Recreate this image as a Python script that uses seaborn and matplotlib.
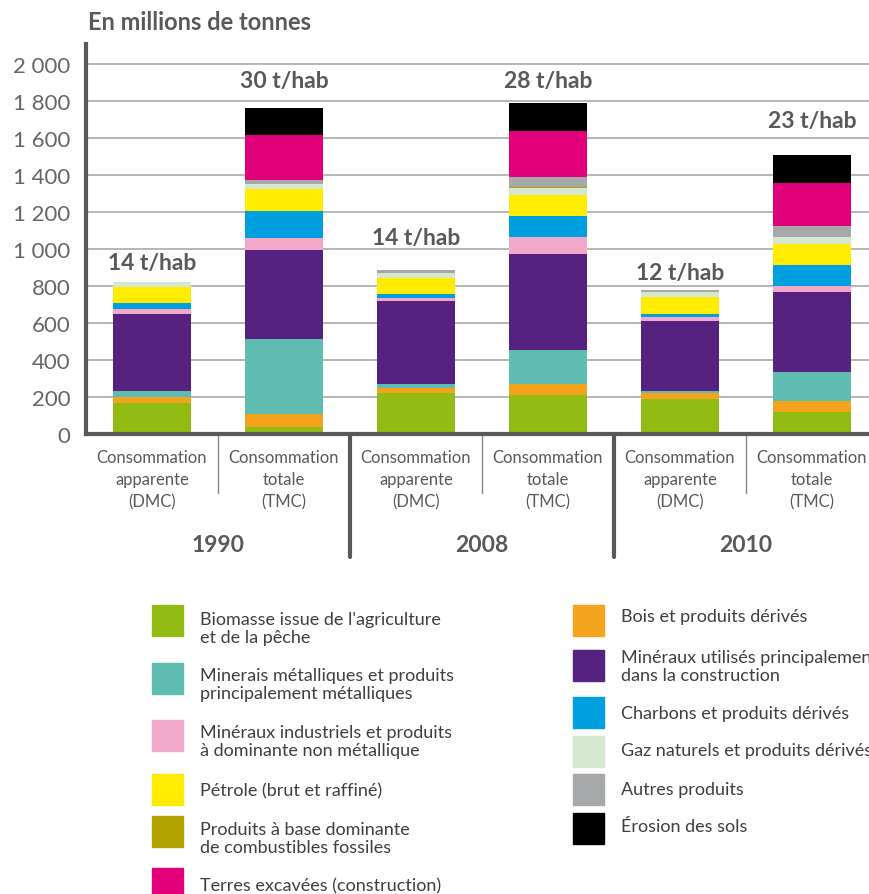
import pandas as pd
import matplotlib
matplotlib.use('Agg')
import matplotlib.pyplot as plt
from matplotlib.patches import Rectangle
from matplotlib.transforms import blended_transform_factory
import seaborn as sns

sns.set_style("white")
plt.rcParams['font.family'] = ['Lato', 'DejaVu Sans']

DARK = '#58595b'

### Data (millions of tonnes)

bar_ids = ['DMC 1990', 'TMC 1990', 'DMC 2008', 'TMC 2008', 'DMC 2010', 'TMC 2010']
bar_labels = ['Consommation\napparente\n(DMC)', 'Consommation\ntotale\n(TMC)'] * 3
years = ['1990', '2008', '2010']
per_capita = ['14 t/hab', '30 t/hab', '14 t/hab', '28 t/hab', '12 t/hab', '23 t/hab']
per_capita_y = [930, 1915, 1065, 1915, 875, 1695]

# bottom -> top stacking order
biomasse = [169, 36, 222, 212, 192, 117]
bois = [32, 74, 27, 58, 32, 64]
minerais_metal = [32, 406, 21, 182, 11, 155]
mineraux_constr = [416, 480, 448, 522, 378, 432]
mineraux_indus = [27, 64, 18, 91, 22, 32]
charbons = [32, 149, 20, 117, 16, 112]
petrole = [90, 117, 90, 112, 90, 117]
gaz = [23, 27, 27, 38, 27, 38]
fossiles = [0, 0, 0, 4, 0, 0]
autres = [4, 21, 14, 55, 11, 58]
terres = [0, 246, 0, 251, 0, 235]
erosion = [0, 144, 0, 149, 0, 150]

stack = [
    ('Biomasse', biomasse, '#92bb14'),
    ('Bois', bois, '#f4a31c'),
    ('Minerais', minerais_metal, '#5fbcb1'),
    ('Construction', mineraux_constr, '#55237f'),
    ('Industriels', mineraux_indus, '#f2a9c9'),
    ('Charbons', charbons, '#009fe0'),
    ('Petrole', petrole, '#ffec00'),
    ('Gaz', gaz, '#d6e8cf'),
    ('Fossiles', fossiles, '#b2a300'),
    ('Autres', autres, '#a7a8aa'),
    ('Terres', terres, '#e2007a'),
    ('Erosion', erosion, '#000000'),
]
colors = {name: c for name, _, c in stack}

yticks = [0, 200, 400, 600, 800, 1000, 1200, 1400, 1600, 1800, 2000]
ytick_labels = ['0', '200', '400', '600', '800', '1 000', '1 200', '1 400', '1 600', '1 800', '2 000']

legend_left = [
    ('Biomasse', "Biomasse issue de l'agriculture\net de la pêche", 606, 629),
    ('Minerais', 'Minerais métalliques et produits\nprincipalement métalliques', 664, 685),
    ('Industriels', 'Minéraux industriels et produits\nà dominante non métallique', 721, 742),
    ('Petrole', 'Pétrole (brut et raffiné)', 775, 791),
    ('Fossiles', 'Produits à base dominante\nde combustibles fossiles', 817, 839),
    ('Terres', 'Terres excavées (construction)', 869, 886),
]
legend_right = [
    ('Bois', 'Bois et produits dérivés', 606, 617),
    ('Construction', 'Minéraux utilisés principalement\ndans la construction', 651, 667),
    ('Charbons', 'Charbons et produits dérivés', 698, 714),
    ('Gaz', 'Gaz naturels et produits dérivés', 737, 751),
    ('Autres', 'Autres produits', 775, 790),
    ('Erosion', 'Érosion des sols', 814, 827),
]

df = pd.DataFrame({'bar': bar_ids})
running = [0] * len(bar_ids)
for name, vals, _ in stack:
    running = [r + v for r, v in zip(running, vals)]
    df[name] = running

### Plot

W, H = 870, 895
fig = plt.figure(figsize=(W / 100, H / 100), dpi=100)
ax = fig.add_axes([86 / W, 1 - 435 / H, (W - 86) / W, (435 - 45) / H])

# paint cumulative totals from the top category down
for name, _, color in reversed(stack):
    sns.barplot(data=df, x='bar', y=name, order=bar_ids, color=color,
                saturation=1, width=0.59, linewidth=0, errorbar=None, ax=ax)

ax.set_xlim(-0.5, 5.44)
ax.set_ylim(0, 2110)
ax.set_yticks(yticks)
ax.set_yticklabels(ytick_labels, fontsize=16, color='#666666')
ax.set_xticks(range(len(bar_ids)))
ax.set_xticklabels(bar_labels, fontsize=12, color=DARK, linespacing=1.45)
ax.tick_params(axis='both', length=0)
ax.tick_params(axis='y', pad=11)
ax.tick_params(axis='x', pad=11)
ax.set_xlabel('')
ax.set_ylabel('')
ax.set_axisbelow(True)
ax.yaxis.grid(True, color='#b1b1b1', linewidth=1.3)
for s in ['top', 'right']:
    ax.spines[s].set_visible(False)
for s in ['left', 'bottom']:
    ax.spines[s].set_color(DARK)
    ax.spines[s].set_linewidth(3)

for i, (txt, y) in enumerate(zip(per_capita, per_capita_y)):
    ax.text(i, y, txt, ha='center', va='center', fontsize=16.5,
            fontweight='bold', color=DARK)

# separators under the axis
trans = blended_transform_factory(ax.transData, ax.transAxes)
for i in range(len(years)):
    ax.plot([2 * i + 0.5] * 2, [0, -0.15], transform=trans, color='#888888',
            lw=1, clip_on=False)
    ax.text(2 * i + 0.5, -0.283, years[i], transform=trans, ha='center',
            va='center', fontsize=16.5, fontweight='bold', color=DARK)
for i in range(1, len(years)):
    ax.plot([2 * i - 0.5] * 2, [0, -0.316], transform=trans, color=DARK,
            lw=3, clip_on=False)

fig.text(88 / W, 1 - 23 / H, 'En millions de tonnes', ha='left', va='center',
         fontsize=17, fontweight='bold', color=DARK)

# legend
for x_sq, entries in [(152, legend_left), (573, legend_right)]:
    for key, label, top, ty in entries:
        fig.patches.append(Rectangle((x_sq / W, 1 - (top + 31) / H), 31 / W, 31 / H,
                                     transform=fig.transFigure, color=colors[key]))
        fig.text((x_sq + 48) / W, 1 - ty / H, label, ha='left', va='center',
                 fontsize=13, color='#3f3f3f', linespacing=1.1)

fig.savefig('out.png', dpi=100)
